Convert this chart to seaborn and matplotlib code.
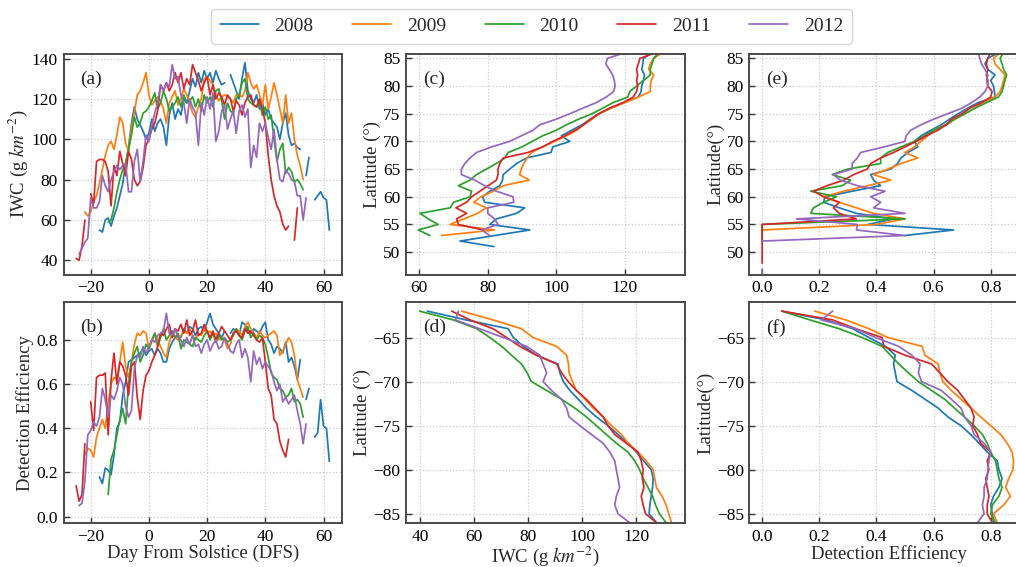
import numpy as np
import pandas as pd
import matplotlib
matplotlib.use("Agg")
import matplotlib.pyplot as plt
import seaborn as sns

years = [2008, 2009, 2010, 2011, 2012]
palette = ["#1f77b4", "#ff7f0e", "#2ca02c", "#d62728", "#9467bd"]
nan = np.nan

# ---------------- seasonal series vs day from solstice ----------------
# first day (DFS) of each yearly series
dfs_start_2008, dfs_start_2009, dfs_start_2010, dfs_start_2011, dfs_start_2012 = -17, -22, -14, -25, -24

iwc_2008 = [55, 54, 60, 61, 57, 62, 66, 72, 78, 88,
            96, 108, 116, 110, 107, 104, 100, 103, 110, 104,
            108, 110, 106, 97, 112, 118, 110, 115, 112, 120,
            118, 124, 130, 126, 133, 128, 134, 130, 133, 128,
            134, 130, 127, 128, nan, 132, 128, 124, 120, 130,
            138, 124, 120, 118, 122, 115, 118, 112, 115, 110,
            108, 106, 100, 108, 113, 102, 97, 98, 96, 95,
            nan, 82, 91, nan, 70, 72, 74, 71, 70, 55]
iwc_2009 = [64, 62, 64, 69, 72, 78, 85, 92, 97, 99,
            95, 102, 111, 108, 98, 94, 106, 113, 122, 124,
            128, 133, 122, 117, 119, 121, 119, 115, 108, 118,
            121, 124, 117, 120, 125, 122, 118, 113, 111, 116,
            120, 130, 131, 129, 127, 122, 119, 121, 122, 121,
            120, 118, 122, 122, 121, 124, 133, 128, 125, 127,
            122, 117, 127, 115, 121, 128, 122, 115, 108, 122,
            108, 113, 100, 92, 87, 80]
iwc_2010 = [59, 60, 66, 74, 80, 85, 88, 95, 102, 111,
            106, 108, 113, 114, 116, 119, 123, 115, 118, 124,
            120, 114, 116, 118, 121, 116, 122, 118, 119, 121,
            116, 120, 114, 122, 118, 121, 116, 124, 125, 119,
            110, 118, 114, 113, 120, 122, 128, 130, 120, 118,
            117, 116, 118, 112, 116, 110, 112, 100, 89, 95,
            98, 83, 86, 84, 79, 80, 78, 75]
iwc_2011 = [41, 40, 47, 60, nan, 73, 68, 89, 90, 90,
            89, 84, 67, 87, 82, 94, 88, 82, 94, 90,
            80, 77, 79, 86, 97, 100, 105, 108, 114, 127,
            124, 128, 124, 127, 133, 128, 133, 125, 130, 127,
            137, 133, 129, 124, 128, 131, 122, 127, 120, 123,
            121, 117, 122, 120, 114, 119, 117, 112, 118, 121,
            122, 117, 116, 120, 115, 108, 92, 80, 72, 67,
            64, 58, 55, 57, nan, 50, 66]
iwc_2012 = [43, 46, 49, 51, 71, 66, 66, 69, 82, 77,
            74, 80, 84, 87, 85, 87, 88, 74, 74, 89,
            95, 79, 89, 102, 99, 107, 113, 118, 127, 124,
            128, 126, 137, 130, 131, 122, 118, 108, 120, 116,
            113, 97, 118, 112, 121, 115, 123, 99, 104, 114,
            117, 105, 110, 114, 103, 114, 117, 111, 115, 86,
            97, 91, 108, 104, 108, 101, 95, 105, 90, 80,
            79, 85, 83, 80, 79, 72, 72, 60, 71]

de_2008 = [0.18, 0.15, 0.22, 0.21, 0.19, 0.28, 0.40, 0.43, 0.55, 0.61,
           0.70, 0.71, 0.72, 0.73, 0.74, 0.76, 0.73, 0.75, 0.76, 0.73,
           0.76, 0.74, 0.70, 0.70, 0.76, 0.79, 0.81, 0.82, 0.81, 0.85,
           0.83, 0.86, 0.85, 0.82, 0.85, 0.86, 0.84, 0.88, 0.92, 0.87,
           0.85, 0.83, 0.81, 0.84, nan, 0.83, 0.85, 0.84, 0.82, 0.88,
           0.87, 0.84, 0.83, 0.85, 0.84, 0.83, 0.86, 0.88, 0.80, 0.78,
           0.74, 0.77, 0.76, 0.74, 0.79, 0.70, 0.72, 0.68, 0.62, 0.71,
           nan, 0.53, 0.58, nan, 0.36, 0.38, 0.53, 0.41, 0.40, 0.25]
de_2009 = [0.28, 0.31, 0.30, 0.27, 0.36, 0.40, 0.44, 0.40, 0.51, 0.60,
           0.63, 0.62, 0.70, 0.79, 0.68, 0.63, 0.70, 0.78, 0.83, 0.82,
           0.84, 0.83, 0.76, 0.79, 0.83, 0.80, 0.77, 0.74, 0.72, 0.79,
           0.83, 0.81, 0.80, 0.82, 0.84, 0.83, 0.85, 0.82, 0.80, 0.83,
           0.82, 0.85, 0.83, 0.84, 0.82, 0.83, 0.80, 0.81, 0.80, 0.76,
           0.78, 0.83, 0.85, 0.84, 0.82, 0.86, 0.88, 0.85, 0.83, 0.81,
           0.84, 0.82, 0.81, 0.82, 0.83, 0.84, 0.82, 0.73, 0.75, 0.78,
           0.81, 0.79, 0.73, 0.62, 0.58, 0.54]
de_2010 = [0.10, 0.26, 0.30, 0.37, 0.44, 0.49, 0.42, 0.60, 0.70, 0.74,
           0.77, 0.70, 0.73, 0.78, 0.76, 0.80, 0.83, 0.77, 0.81, 0.85,
           0.80, 0.82, 0.84, 0.81, 0.83, 0.76, 0.80, 0.79, 0.78, 0.77,
           0.81, 0.80, 0.79, 0.82, 0.84, 0.80, 0.83, 0.79, 0.82, 0.80,
           0.81, 0.79, 0.80, 0.82, 0.85, 0.82, 0.80, 0.84, 0.86, 0.81,
           0.83, 0.80, 0.82, 0.81, 0.78, 0.72, 0.65, 0.63, 0.62, 0.58,
           0.57, 0.54, 0.55, 0.58, 0.52, 0.53, 0.51, 0.45]
de_2011 = [0.14, 0.07, 0.10, 0.33, nan, 0.52, 0.39, 0.63, 0.64, 0.64,
           0.65, 0.37, 0.62, 0.74, 0.60, 0.70, 0.68, 0.64, 0.55, 0.68,
           0.70, 0.54, 0.44, 0.57, 0.64, 0.66, 0.70, 0.73, 0.77, 0.83,
           0.82, 0.85, 0.87, 0.81, 0.85, 0.84, 0.87, 0.83, 0.89, 0.82,
           0.84, 0.89, 0.82, 0.83, 0.87, 0.84, 0.81, 0.84, 0.80, 0.83,
           0.86, 0.84, 0.82, 0.80, 0.83, 0.84, 0.82, 0.81, 0.85, 0.83,
           0.84, 0.82, 0.80, 0.79, 0.81, 0.70, 0.58, 0.55, 0.44, 0.42,
           0.34, 0.30, 0.27, 0.35]
de_2012 = [0.05, 0.06, 0.16, 0.37, 0.39, 0.43, 0.41, 0.45, 0.58, 0.53,
           0.45, 0.55, 0.53, 0.57, 0.63, 0.60, 0.50, 0.45, 0.48, 0.67,
           0.73, 0.72, 0.77, 0.74, 0.77, 0.80, 0.79, 0.82, 0.83, 0.84,
           0.92, 0.83, 0.82, 0.85, 0.81, 0.80, 0.77, 0.81, 0.78, 0.82,
           0.77, 0.78, 0.74, 0.78, 0.80, 0.75, 0.78, 0.80, 0.76, 0.77,
           0.81, 0.78, 0.75, 0.74, 0.78, 0.80, 0.72, 0.76, 0.72, 0.61,
           0.75, 0.69, 0.72, 0.67, 0.70, 0.68, 0.66, 0.61, 0.57, 0.60,
           0.52, 0.54, 0.51, 0.53, 0.55, 0.48, 0.42, 0.33, 0.42]

# ---------------- latitude profiles ----------------
# northern profiles: first latitude of each list, step +1 degree
lat_n_start_2008, lat_n_start_2009, lat_n_start_2010, lat_n_start_2011, lat_n_start_2012 = 51, 53, 53, 54, 53
iwc_n_2008 = [81.8, 71.9, 82, 92.3, 80.6, 82.5, 88.4, 90.8, 79.1, 78.5,
              80.6, 83.5, 84.3, 84.5, 86.4, 88.4, 91.3, 98.5, 99, 104,
              101.5, 104.5, 107.5, 110, 112.5, 116, 120, 124, 124.8, 125,
              125.5, 125.8, 125, 125.3, 125.5, 128]
iwc_n_2009 = [66.5, 82, 69, 73, 77, 79.6, 75.9, 78, 81.6, 84.5,
              92.1, 89.3, 89.8, 90.5, 91.5, 92.8, 96, 99.5, 103, 106,
              108, 110.5, 112.5, 116, 120, 124, 127.5, 127.5, 127.8, 128.5,
              127, 127.5, 128.5, 131]
iwc_n_2010 = [63.1, 59.7, 65.5, 62.6, 60.2, 69, 70, 74.8, 75.3, 71.4,
              74.8, 76.7, 79.6, 82.5, 85, 86, 90, 93, 96, 100,
              103, 106.5, 110.5, 113.6, 116.6, 120.9, 121.5, 123.5, 125.5, 127.5,
              127.5, 128, 128.5, 130]
iwc_n_2011 = [78.7, 71.4, 70.9, 73.8, 70.7, 73.8, 75.3, 77.7, 80.1, 82.5,
              83, 83, 83.5, 84.5, 91.8, 96, 99, 102.5, 105.5, 108,
              110, 112.5, 115.5, 119.5, 122.5, 123.5, 123.8, 123.5, 123.8, 123.5,
              124, 124.5, 129]
iwc_n_2012 = [80.6, 78.2, 83, 82, 80, 80, 87.6, 87.4, 82.5, 79.1,
              76.2, 72.3, 72.3, 73.3, 74.8, 76.7, 81.1, 86.4, 89.8, 93.2,
              95.2, 100, 104, 107.8, 111.7, 114.6, 116.8, 117.2, 117, 116.5,
              115.5, 114.5, 115, 120]

de_lat_n_start_2008, de_lat_n_start_2009, de_lat_n_start_2010, de_lat_n_start_2011, de_lat_n_start_2012 = 53, 54, 52, 48, 46
de_n_2008 = [0.50, 0.67, 0.37, 0.46, 0.33, 0.27, 0.215, 0.22, 0.315, 0.415,
             0.39, 0.38, 0.45, 0.474, 0.486, 0.51, 0.545, 0.533, 0.556, 0.59,
             0.627, 0.656, 0.686, 0.72, 0.756, 0.815, 0.813, 0.81, 0.80, 0.815,
             0.79, 0.78, 0.79, 0.827]
de_n_2009 = [0.0, 0.40, 0.50, 0.39, 0.33, 0.27, 0.215, 0.286, 0.37, 0.45,
             0.39, 0.44, 0.486, 0.545, 0.50, 0.533, 0.556, 0.58, 0.60, 0.64,
             0.674, 0.71, 0.745, 0.774, 0.815, 0.833, 0.84, 0.845, 0.85, 0.833,
             0.815, 0.81, 0.833]
de_n_2010 = [0.0, 0.0, 0.0, 0.0, 0.50, 0.17, 0.18, 0.215, 0.26, 0.17,
             0.28, 0.31, 0.245, 0.30, 0.415, 0.415, 0.44, 0.486, 0.533, 0.568,
             0.60, 0.645, 0.674, 0.71, 0.745, 0.786, 0.827, 0.84, 0.845, 0.85,
             0.856, 0.845, 0.84, 0.833, 0.845]
de_n_2011 = [0.0, 0.0, 0.0, 0.0, 0.0, 0.0, 0.0, 0.0, 0.33, 0.27,
             0.25, 0.27, 0.215, 0.18, 0.227, 0.286, 0.32, 0.368, 0.38, 0.415,
             0.46, 0.50, 0.54, 0.574, 0.615, 0.645, 0.662, 0.70, 0.727, 0.768,
             0.80, 0.805, 0.79, 0.79, 0.785, 0.79, 0.785, 0.79, 0.80]
de_n_2012 = [0.0, 0.0, nan, nan, nan, nan, 0.0, 0.50, 0.33, 0.333,
             0.12, 0.50, 0.39, 0.415, 0.38, 0.43, 0.333, 0.274, 0.25, 0.315,
             0.315, 0.333, 0.345, 0.427, 0.50, 0.504, 0.52, 0.556, 0.60, 0.65,
             0.70, 0.733, 0.762, 0.78, 0.79, 0.786, 0.79, 0.78, 0.768, 0.762,
             0.756]

# southern profiles: latitudes -62 to -86, step -1 degree
lat_s_start = -62
iwc_s_2008 = [42.7, 57, 72.6, 74.5, 78.2, 83, 91, 91.7, 93, 95.4,
              98.5, 101.5, 105.2, 109.5, 113.2, 117, 120, 122.7, 125.5, 126.2,
              126, 125.5, 125, 124.7, 127.5]
iwc_s_2009 = [55.4, 67, 77.5, 81.8, 90.5, 94.2, 94.9, 95.1, 96.4, 97.8,
              101, 104, 107.7, 110.8, 114.5, 117, 120.6, 123.7, 126.2, 126.8,
              127.4, 129.5, 131, 132, 133]
iwc_s_2010 = [39.8, 52.3, 61, 65.8, 70.2, 73.8, 77.5, 79.6, 81.2, 86.8,
              92.3, 97.2, 101.5, 105.2, 108.9, 112.6, 116.9, 119.4, 121.2, 122.5,
              124.3, 126, 127.1, 128.5, 131]
iwc_s_2011 = [51.7, 58.5, 67, 72, 76.9, 83, 90.5, 92.3, 94.8, 97.8,
              101.5, 104.6, 107.7, 109.5, 112, 116.3, 120.6, 121.8, 122.5, 122.2,
              122.8, 121.8, 122.5, 123.4, 127.4]
iwc_s_2012 = [54.2, 53, 62, 70.8, 79.4, 84.3, 85.5, 86.8, 85.5, 88.6,
              92.3, 94.2, 95.1, 99.1, 103.4, 107.7, 110.2, 112, 112.6, 113.2,
              113.8, 112.6, 112, 113.2, 117.5]

de_s_2008 = [0.069, 0.224, 0.317, 0.374, 0.432, 0.466, 0.46, 0.466, 0.472, 0.524,
             0.57, 0.616, 0.65, 0.696, 0.73, 0.76, 0.788, 0.823, 0.829, 0.84,
             0.829, 0.81, 0.80, 0.806, 0.81]
de_s_2009 = [0.184, 0.293, 0.374, 0.44, 0.56, 0.57, 0.616, 0.622, 0.633, 0.662,
             0.696, 0.731, 0.765, 0.80, 0.835, 0.858, 0.875, 0.88, 0.878, 0.863,
             0.852, 0.869, 0.846, 0.81, 0.823]
de_s_2010 = [0.069, 0.167, 0.27, 0.35, 0.42, 0.449, 0.478, 0.512, 0.547, 0.593,
             0.639, 0.673, 0.708, 0.742, 0.771, 0.788, 0.80, 0.817, 0.823, 0.829,
             0.84, 0.829, 0.806, 0.80, 0.817]
de_s_2011 = [0.069, 0.247, 0.328, 0.42, 0.426, 0.50, 0.593, 0.622, 0.65, 0.685,
             0.708, 0.731, 0.742, 0.737, 0.754, 0.765, 0.80, 0.788, 0.794, 0.783,
             0.788, 0.794, 0.788, 0.788, 0.806]
de_s_2012 = [0.247, 0.207, 0.328, 0.397, 0.478, 0.524, 0.553, 0.547, 0.558, 0.627,
             0.662, 0.696, 0.708, 0.731, 0.742, 0.777, 0.80, 0.794, 0.79, 0.788,
             0.777, 0.777, 0.771, 0.777, 0.754]


def build_frame(value_lists, starts, step, pos_name, val_name):
    """Long table with one row per valid sample; gaps start a new segment."""
    parts = []
    for yr, vals, s0 in zip(years, value_lists, starts):
        v = np.asarray(vals, dtype=float)
        pos = s0 + step * np.arange(len(v))
        seg = np.cumsum(np.isnan(v))
        df = pd.DataFrame({pos_name: pos, val_name: v, "seg": seg, "year": str(yr)})
        parts.append(df.dropna())
    return pd.concat(parts, ignore_index=True)


dfs_starts = [dfs_start_2008, dfs_start_2009, dfs_start_2010, dfs_start_2011, dfs_start_2012]
df_a = build_frame([iwc_2008, iwc_2009, iwc_2010, iwc_2011, iwc_2012], dfs_starts, 1, "dfs", "val")
df_b = build_frame([de_2008, de_2009, de_2010, de_2011, de_2012], dfs_starts, 1, "dfs", "val")
df_c = build_frame([iwc_n_2008, iwc_n_2009, iwc_n_2010, iwc_n_2011, iwc_n_2012],
                   [lat_n_start_2008, lat_n_start_2009, lat_n_start_2010, lat_n_start_2011, lat_n_start_2012],
                   1, "lat", "val")
df_e = build_frame([de_n_2008, de_n_2009, de_n_2010, de_n_2011, de_n_2012],
                   [de_lat_n_start_2008, de_lat_n_start_2009, de_lat_n_start_2010,
                    de_lat_n_start_2011, de_lat_n_start_2012], 1, "lat", "val")
df_d = build_frame([iwc_s_2008, iwc_s_2009, iwc_s_2010, iwc_s_2011, iwc_s_2012],
                   [lat_s_start] * 5, -1, "lat", "val")
df_f = build_frame([de_s_2008, de_s_2009, de_s_2010, de_s_2011, de_s_2012],
                   [lat_s_start] * 5, -1, "lat", "val")

# ---------------- style ----------------
sns.set_style("whitegrid", {
    "grid.color": "#c9c9c9",
    "grid.linestyle": ":",
    "axes.edgecolor": "#4a4a4a",
    "xtick.bottom": True,
    "ytick.left": True,
})
plt.rcParams["font.family"] = ["Liberation Serif", "DejaVu Serif"]
plt.rcParams["mathtext.fontset"] = "stix"

W, H = 1016, 567
fig = plt.figure(figsize=(W / 100, H / 100), dpi=100)


def axes_px(left, top, width, height):
    return fig.add_axes([left / W, 1 - (top + height) / H, width / W, height / H])


col_left = [63.5, 406.0, 749.3]
col_w = 278.5
row_top = [53.5, 302.3]
row_h = 221.0

axs = {}
for key, c, r in [("a", 0, 0), ("b", 0, 1), ("c", 1, 0), ("d", 1, 1), ("e", 2, 0), ("f", 2, 1)]:
    axs[key] = axes_px(col_left[c], row_top[r], col_w, row_h)

pal = dict(zip([str(y) for y in years], palette))
lw = 1.25
iwc_label = "IWC (g $km^{-2}$)"

sns.lineplot(data=df_a, x="dfs", y="val", hue="year", units="seg", estimator=None,
             palette=pal, lw=lw, ax=axs["a"], legend=True)
handles, labels = axs["a"].get_legend_handles_labels()
axs["a"].get_legend().remove()
sns.lineplot(data=df_b, x="dfs", y="val", hue="year", units="seg", estimator=None,
             palette=pal, lw=lw, ax=axs["b"], legend=False)
for key, df in [("c", df_c), ("d", df_d), ("e", df_e), ("f", df_f)]:
    sns.lineplot(data=df, x="val", y="lat", hue="year", units="seg", estimator=None,
                 orient="y", palette=pal, lw=lw, ax=axs[key], legend=False)

lab_fs = 13.5
tick_fs = 12.5
xlab_pad = 0.0
ylab_pad = 1.5

axs["a"].set(xlim=(-29.35, 66.35), ylim=(33.0, 142.5), xticks=[-20, 0, 20, 40, 60],
             yticks=[40, 60, 80, 100, 120, 140])
axs["a"].set_xlabel("")
axs["a"].set_ylabel(iwc_label, fontsize=lab_fs, labelpad=ylab_pad)

axs["b"].set(xlim=(-29.35, 66.35), ylim=(-0.03, 0.97), xticks=[-20, 0, 20, 40, 60],
             yticks=[0.0, 0.2, 0.4, 0.6, 0.8])
axs["b"].set_xlabel("Day From Solstice (DFS)", fontsize=lab_fs, labelpad=xlab_pad)
axs["b"].set_ylabel("Detection Efficiency", fontsize=lab_fs, labelpad=ylab_pad)
axs["b"].yaxis.set_major_formatter(matplotlib.ticker.FormatStrFormatter("%.1f"))

axs["c"].set(xlim=(56.1, 137.5), ylim=(45.96, 85.87), xticks=[60, 80, 100, 120],
             yticks=[50, 55, 60, 65, 70, 75, 80, 85])
axs["c"].set_xlabel("")
axs["c"].set_ylabel("Latitude (°)", fontsize=lab_fs, labelpad=ylab_pad)

axs["d"].set(xlim=(34.8, 137.8), ylim=(-86.08, -61.0), xticks=[40, 60, 80, 100, 120],
             yticks=[-65, -70, -75, -80, -85])
axs["d"].set_xlabel(iwc_label, fontsize=lab_fs, labelpad=xlab_pad)
axs["d"].set_ylabel("Latitude (°)", fontsize=lab_fs, labelpad=ylab_pad)

for key in ["e", "f"]:
    axs[key].set(xlim=(-0.045, 0.93), xticks=[0.0, 0.2, 0.4, 0.6, 0.8])
    axs[key].xaxis.set_major_formatter(matplotlib.ticker.FormatStrFormatter("%.1f"))
    axs[key].set_ylabel("Latitude(°)", fontsize=lab_fs, labelpad=ylab_pad)
axs["e"].set(ylim=(45.96, 85.87), yticks=[50, 55, 60, 65, 70, 75, 80, 85])
axs["e"].set_xlabel("")
axs["f"].set(ylim=(-86.08, -61.0), yticks=[-65, -70, -75, -80, -85])
axs["f"].set_xlabel("Detection Efficiency", fontsize=lab_fs, labelpad=xlab_pad)

for key, ax in axs.items():
    ax.tick_params(direction="in", length=4, width=1, colors="#333333",
                   labelcolor="black", labelsize=tick_fs, pad=4)
    ax.grid(True, linestyle=":", color="#c9c9c9", linewidth=0.9)
    for sp in ax.spines.values():
        sp.set_linewidth(1.4)
        sp.set_color("#4a4a4a")
    ax.text(0.06, 0.885, f"({key})", transform=ax.transAxes, fontsize=14,
            ha="left", va="center")

fig.legend(handles, labels, loc="center", bbox_to_anchor=(531.5 / W, 1 - 26.4 / H),
           ncol=5, fontsize=14, frameon=True, fancybox=True, edgecolor="#d6d6d6",
           framealpha=1.0, handlelength=2.0, columnspacing=2.0, borderpad=0.45)

fig.savefig("out.png", dpi=100)
